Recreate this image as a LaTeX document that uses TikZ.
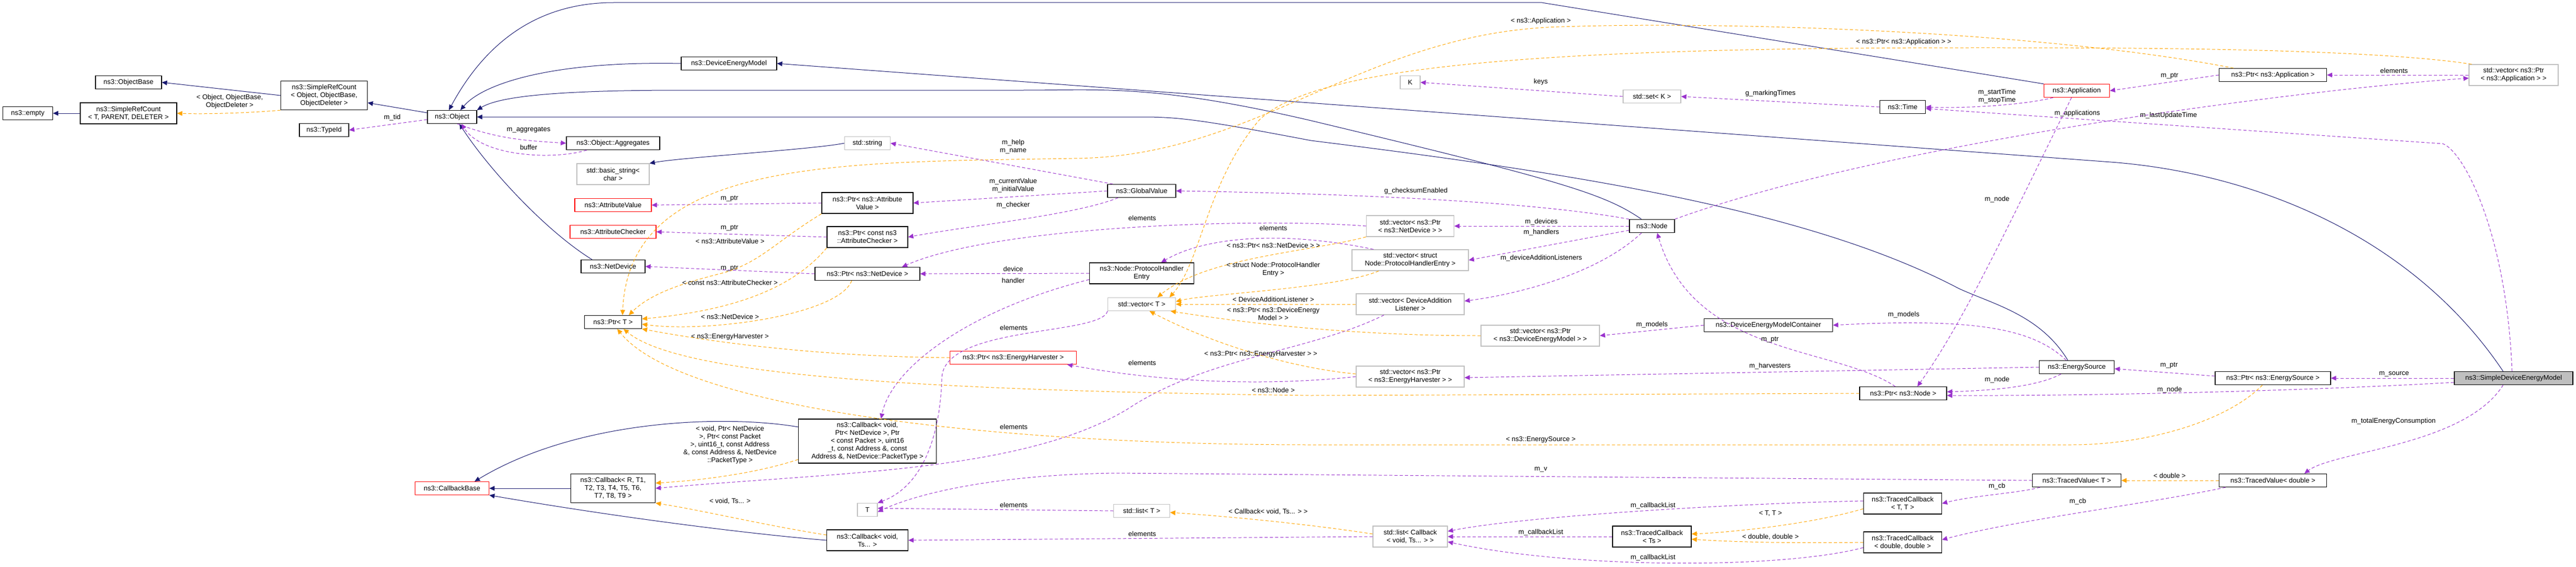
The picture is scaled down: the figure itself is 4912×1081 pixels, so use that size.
\documentclass[tikz,border=0pt]{standalone}
\usepackage{fontspec}
\setmainfont{Liberation Sans}
\usetikzlibrary{arrows.meta}
\definecolor{inhc}{RGB}{25,25,112}
\definecolor{usec}{RGB}{154,50,205}
\definecolor{tmpc}{RGB}{255,165,0}
\definecolor{grayb}{RGB}{191,191,191}
\begin{document}
\begin{tikzpicture}[x=1pt,y=-1pt,
  every node/.style={font=\fontsize{13}{15}\selectfont, align=center, inner sep=1pt},
  box/.style={draw=black, line width=1.2pt, fill=white, minimum height=25},
  gbox/.style={draw=grayb, line width=1.2pt, fill=white, minimum height=25},
  rbox/.style={draw=red, line width=1.2pt, fill=white, minimum height=25},
  lbl/.style={inner sep=0pt},
  inh/.style={draw=inhc, line width=1pt, -{Triangle[length=10pt,width=9pt]}},
  use/.style={draw=usec, line width=1pt, dash pattern=on 6pt off 4pt, -{Triangle[length=10pt,width=9pt]}},
  tmpl/.style={draw=tmpc, line width=1pt, dash pattern=on 6pt off 4pt, -{Triangle[length=10pt,width=9pt]}}]
\useasboundingbox (0,0) rectangle (4912,1081);
% nodes
\node[box,minimum width=95] (empty) at (53,216) {ns3::empty};
\node[box,minimum width=184,minimum height=40] (srcT) at (245,216) {ns3::SimpleRefCount\\< T, PARENT, DELETER >};
\node[box,minimum width=126] (objbase) at (245,157) {ns3::ObjectBase};
\node[box,minimum width=165,minimum height=55] (srcO) at (618,182) {ns3::SimpleRefCount\\< Object, ObjectBase,\\ObjectDeleter >};
\node[box,minimum width=94] (typeid) at (618,248) {ns3::TypeId};
\node[box,minimum width=94] (obj) at (862,223) {ns3::Object};
\node[box,minimum width=178] (aggr) at (1169,273) {ns3::Object::Aggregates};
\node[gbox,minimum width=138,minimum height=40] (bstr) at (1169,332) {std::basic\_string<\\char >};
\node[rbox,minimum width=146] (attv) at (1169,391) {ns3::AttributeValue};
\node[rbox,minimum width=164] (attc) at (1169,442) {ns3::AttributeChecker};
\node[box,minimum width=122] (netdev) at (1169,508) {ns3::NetDevice};
\node[box,minimum width=109] (ptrT) at (1169,614) {ns3::Ptr< T >};
\node[rbox,minimum width=141] (cbbase) at (862,931) {ns3::CallbackBase};
\node[box,minimum width=161,minimum height=55] (cbR) at (1169,931) {ns3::Callback< R, T1,\\T2, T3, T4, T5, T6,\\T7, T8, T9 >};
\node[box,minimum width=182] (dem) at (1390,121) {ns3::DeviceEnergyModel};
\node[gbox,minimum width=87] (str) at (1654,273) {std::string};
\node[box,minimum width=174,minimum height=40] (pAV) at (1654,387) {ns3::Ptr< ns3::Attribute\\Value >};
\node[box,minimum width=154,minimum height=40] (pAC) at (1654,452) {ns3::Ptr< const ns3\\::AttributeChecker >};
\node[box,minimum width=200] (pND) at (1654,522) {ns3::Ptr< ns3::NetDevice >};
\node[box,minimum width=130] (gv) at (2177,364) {ns3::GlobalValue};
\node[box,minimum width=199,minimum height=40] (phe) at (2177,521) {ns3::Node::ProtocolHandler\\Entry};
\node[gbox,minimum width=129] (vecT) at (2177,580) {std::vector< T >};
\node[rbox,minimum width=241] (pEH) at (1932,682) {ns3::Ptr< ns3::EnergyHarvester >};
\node[box,minimum width=263,minimum height=84] (cbND) at (1654,841) {ns3::Callback< void,\\Ptr< NetDevice >, Ptr\\< const Packet >, uint16\\\_t, const Address \&, const\\Address \&, NetDevice::PacketType >};
\node[gbox,minimum width=38] (Tn) at (1654,972) {T};
\node[gbox,minimum width=107] (listT) at (2177,974) {std::list< T >};
\node[box,minimum width=155,minimum height=40] (cbV) at (1654,1030) {ns3::Callback< void,\\Ts... >};
\node[gbox,minimum width=38] (K) at (2689,157) {K};
\node[gbox,minimum width=110] (setK) at (3150,184) {std::set< K >};
\node[box,minimum width=87] (time) at (3628,204) {ns3::Time};
\node[gbox,minimum width=167,minimum height=40] (vND) at (2689,431) {std::vector< ns3::Ptr\\< ns3::NetDevice > >};
\node[gbox,minimum width=222,minimum height=40] (vPHE) at (2689,496) {std::vector< struct\\Node::ProtocolHandlerEntry >};
\node[box,minimum width=86] (node) at (3150,431) {ns3::Node};
\node[gbox,minimum width=206,minimum height=40] (vDAL) at (2689,580) {std::vector< DeviceAddition\\Listener >};
\node[gbox,minimum width=226,minimum height=40] (vDEM) at (2937,640) {std::vector< ns3::Ptr\\< ns3::DeviceEnergyModel > >};
\node[box,minimum width=245] (demc) at (3372,620) {ns3::DeviceEnergyModelContainer};
\node[gbox,minimum width=206,minimum height=40] (vEH) at (2689,718) {std::vector< ns3::Ptr\\< ns3::EnergyHarvester > >};
\node[box,minimum width=166] (pNode) at (3629,750) {ns3::Ptr< ns3::Node >};
\node[gbox,minimum width=142,minimum height=40] (listCB) at (2689,1023) {std::list< Callback\\< void, Ts... > >};
\node[box,minimum width=150,minimum height=40] (tcTs) at (3150,1023) {ns3::TracedCallback\\< Ts >};
\node[box,minimum width=149,minimum height=40] (tcTT) at (3628,960) {ns3::TracedCallback\\< T, T >};
\node[box,minimum width=149,minimum height=40] (tcDD) at (3628,1034) {ns3::TracedCallback\\< double, double >};
\node[rbox,minimum width=125] (app) at (3960,173) {ns3::Application};
\node[box,minimum width=205] (pApp) at (4334,143) {ns3::Ptr< ns3::Application >};
\node[gbox,minimum width=170,minimum height=40] (vApp) at (4793,143) {std::vector< ns3::Ptr\\< ns3::Application > >};
\node[box,minimum width=143] (es) at (3960,700) {ns3::EnergySource};
\node[box,minimum width=220] (pES) at (4334,721) {ns3::Ptr< ns3::EnergySource >};
\node[box,minimum width=226,fill=grayb] (sdem) at (4793,721) {ns3::SimpleDeviceEnergyModel};
\node[box,minimum width=169] (tvT) at (3960,916) {ns3::TracedValue< T >};
\node[box,minimum width=205] (tvD) at (4334,916) {ns3::TracedValue< double >};
% inheritance
\draw[inh] (srcT) -- (empty);
\draw[inh] (srcO.west) -- (objbase.east);
\draw[inh] (obj) -- (srcO);
\draw[inh] (dem.west) .. controls (1050,116) and (920,160) .. ([xshift=16]obj.north);
\draw[inh] (app.north west) -- (2940,5) -- (1170,5) .. controls (1000,5) and (910,110) .. ([xshift=-6]obj.north);
\draw[inh] ([xshift=-20]node.north) .. controls (3060,370) and (2980,345) .. (2500,230) .. controls (2200,160) and (2100,172) .. (1950,172) -- (1300,172) .. controls (1050,172) and (950,185) .. (obj.north east);
\draw[inh] ([xshift=-17]es.north) .. controls (3890,600) and (3800,580) .. (3735,550) .. controls (3450,400) and (3000,330) .. (2500,268) .. controls (2300,230) and (2250,223) .. (2180,223) -- (obj.east);
\draw[inh] ([xshift=-40]netdev.north) .. controls (1040,440) and (930,320) .. ([xshift=14]obj.south);
\draw[inh] ([xshift=-20]sdem.north) .. controls (4600,450) and (4300,330) .. (4025,309) -- (dem.east);
\draw[inh] (str.west) .. controls (1550,285) and (1300,300) .. (bstr.north east);
\draw[inh] (cbR) -- (cbbase);
\draw[inh] ([yshift=27]cbND.west) .. controls (1380,790) and (1100,800) .. ([xshift=43]cbbase.north);
\draw[inh] (cbV.west) .. controls (1450,1020) and (1200,990) .. (cbbase.south east);
% usage
\draw[use] ([yshift=-5]obj.west) -- (typeid.east);
\node[lbl] (l1) at (748,224) {m\_tid};
\draw[use] ([xshift=10]obj.south) .. controls (950,265) and (1000,268) .. (aggr.west);
\node[lbl] (l2) at (1008,248) {m\_aggregates};
\draw[use] ([xshift=-50]aggr.south) .. controls (1060,305) and (920,300) .. ([xshift=18]obj.south);
\node[lbl] (l3) at (1008,281) {buffer};
\draw[use] (pAV.west) -- (attv.east);
\node[lbl] (l4) at (1391,379) {m\_ptr};
\draw[use] (pAC.west) -- (attc.east);
\node[lbl] (l5) at (1391,435) {m\_ptr};
\draw[use] (pND.west) -- (netdev.east);
\node[lbl] (l6) at (1391,512) {m\_ptr};
\draw[use] ([xshift=-55]gv.north) -- (str.east);
\node[lbl] (l7) at (1932,280) {m\_help\\m\_name};
\draw[use] (gv.west) -- (pAV.east);
\node[lbl] (l8) at (1932,354) {m\_currentValue\\m\_initialValue};
\draw[use] ([xshift=-45]gv.south) .. controls (2050,410) and (1850,430) .. (pAC.east);
\node[lbl] (l9) at (1932,391) {m\_checker};
\draw[use] (node.north west) .. controls (2900,380) and (2500,368) .. (gv.east);
\node[lbl] (l10) at (2700,364) {g\_checksumEnabled};
\draw[use] (node.west) -- (vND.east);
\node[lbl] (l11) at (2939,423) {m\_devices};
\draw[use] ([yshift=-8]node.west) -- (vPHE.east);
\node[lbl] (l12) at (2939,443) {m\_handlers};
\draw[use] ([xshift=-20]node.south) .. controls (3050,520) and (2900,560) .. ([yshift=6]vDAL.east);
\node[lbl] (l13) at (2939,492) {m\_deviceAdditionListeners};
\draw[use] (node.north east) .. controls (3600,270) and (4400,170) .. ([yshift=-6]vApp.west);
\node[lbl] (l14) at (3961,216) {m\_applications};
\draw[use] (time.west) -- (setK.east);
\node[lbl] (l15) at (3376,178) {g\_markingTimes};
\draw[use] (setK.west) -- (K.east);
\node[lbl] (l16) at (2938,156) {keys};
\draw[use] ([xshift=-45]app.south) .. controls (3860,200) and (3750,207) .. (time.east);
\node[lbl] (l17) at (3808,184) {m\_startTime\\m\_stopTime};
\draw[use] ([xshift=-10]app.south) .. controls (3820,450) and (3740,620) .. ([xshift=27]pNode.north);
\node[lbl] (l18) at (3808,380) {m\_node};
\draw[use] ([xshift=-30]es.south) .. controls (3880,740) and (3780,745) .. ([yshift=3]pNode.east);
\node[lbl] (l19) at (3808,724) {m\_node};
\draw[use] ([yshift=-8]sdem.west) .. controls (4400,745) and (4000,755) .. ([yshift=-4]pNode.east);
\node[lbl] (l20) at (4137,743) {m\_node};
\draw[use] (sdem.west) -- (pES.east);
\node[lbl] (l21) at (4565,713) {m\_source};
\draw[use] ([yshift=4]pES.west) -- ([yshift=-3]es.east);
\node[lbl] (l22) at (4136,697) {m\_ptr};
\draw[use] ([xshift=-20]sdem.south) .. controls (4700,850) and (4450,860) .. ([xshift=60]tvD.north);
\node[lbl] (l23) at (4564,803) {m\_totalEnergyConsumption};
\draw[use] ([xshift=-3]sdem.north) .. controls (4780,450) and (4700,290) .. (4658,274) -- ([yshift=-3]time.east);
\node[lbl] (l24) at (4135,220) {m\_lastUpdateTime};
\draw[use] ([xshift=-15]pNode.north) .. controls (3500,660) and (3230,680) .. ([xshift=10]node.south);
\node[lbl] (l25) at (3375,648) {m\_ptr};
\draw[use] ([xshift=-20]es.north) .. controls (3880,630) and (3780,605) .. (demc.east);
\node[lbl] (l26) at (3630,600) {m\_models};
\draw[use] (demc.west) -- (vDEM.east);
\node[lbl] (l27) at (3150,619) {m\_models};
\draw[use] (es.west) -- ([yshift=-2]vEH.east);
\node[lbl] (l28) at (3375,698) {m\_harvesters};
\draw[use] (pApp.west) -- (app.east);
\node[lbl] (l29) at (4137,145) {m\_ptr};
\draw[use] (vApp.west) -- (pApp.east);
\node[lbl] (l30) at (4565,135) {elements};
\draw[use] (vND.west) .. controls (2400,415) and (1900,430) .. ([xshift=66]pND.north);
\node[lbl] (l31) at (2178,416) {elements};
\draw[use] ([xshift=-70]vPHE.north) .. controls (2450,440) and (2300,450) .. ([xshift=37]phe.north);
\node[lbl] (l32) at (2428,435) {elements};
\draw[use] (phe.west) -- (pND.east);
\node[lbl] (l33) at (1932,513) {device};
\draw[use] ([yshift=-12]phe.west) .. controls (1850,590) and (1700,700) .. ([xshift=26]cbND.north);
\node[lbl] (l34) at (1932,535) {handler};
\draw[use] (vecT.south west) .. controls (2100,640) and (1800,620) .. (1796,720) .. controls (1792,850) and (1750,930) .. (Tn.north east);
\node[lbl] (l35) at (1933,625) {elements};
\draw[use] ([xshift=-50]vDAL.south) .. controls (2500,670) and (2300,680) .. (2150,780) .. controls (1950,900) and (1600,900) .. (cbR.east);
\node[lbl] (l36) at (1933,814) {elements};
\draw[use] (tvT.west) -- (2127,902) .. controls (1900,905) and (1750,940) .. ([yshift=-4]Tn.east);
\node[lbl] (l37) at (2938,895) {m\_v};
\draw[use] (vEH.west) .. controls (2450,733) and (2250,735) .. ([xshift=103]pEH.south);
\node[lbl] (l38) at (2178,692) {elements};
\draw[use] (listT.west) -- ([yshift=3]Tn.east);
\node[lbl] (l39) at (1933,963) {elements};
\draw[use] (listCB.west) -- (cbV.east);
\node[lbl] (l40) at (2178,1018) {elements};
\draw[use] (tcTs.west) -- (listCB.east);
\node[lbl] (l41) at (2938,1015) {m\_callbackList};
\draw[use] ([yshift=5]tcTT.west) .. controls (3300,960) and (2900,985) .. ([yshift=10]listCB.east);
\node[lbl] (l42) at (3152,964) {m\_callbackList};
\draw[use] ([yshift=-10]tcDD.west) .. controls (3400,1085) and (3000,1085) .. ([yshift=-10]listCB.east);
\node[lbl] (l43) at (3152,1063) {m\_callbackList};
\draw[use] ([xshift=-70]tvT.south) .. controls (3850,940) and (3760,945) .. (tcTT.east);
\node[lbl] (l44) at (3808,927) {m\_cb};
\draw[use] ([xshift=-90]tvD.south) .. controls (4100,960) and (3850,990) .. ([yshift=5]tcDD.east);
\node[lbl] (l45) at (3962,956) {m\_cb};
% template
\draw[tmpl] (srcO.south west) .. controls (480,215) and (400,218) .. (srcT.east);
\node[lbl] (t1) at (438,194) {< Object, ObjectBase,\\ObjectDeleter >};
\draw[tmpl] (tvD.west) -- (tvT.east);
\node[lbl] (t2) at (4137,907) {< double >};
\draw[tmpl] ([yshift=-10]tcTT.west) .. controls (3450,1000) and (3300,1015) .. ([yshift=5]tcTs.east);
\node[lbl] (t3) at (3376,979) {< T, T >};
\draw[tmpl] (tcDD.west) .. controls (3400,1036) and (3300,1033) .. ([yshift=-5]tcTs.east);
\node[lbl] (t4) at (3376,1024) {< double, double >};
\draw[tmpl] ([yshift=5]listCB.west) .. controls (2500,1000) and (2350,985) .. ([yshift=-3]listT.east);
\node[lbl] (t5) at (2418,976) {< Callback< void, Ts... > >};
\draw[tmpl] ([yshift=10]cbV.west) .. controls (1450,1000) and (1350,975) .. (cbR.south east);
\node[lbl] (t6) at (1392,956) {< void, Ts... >};
\draw[tmpl] ([yshift=-35]cbND.west) .. controls (1450,900) and (1350,915) .. ([yshift=10]cbR.east);
\node[lbl] (t7) at (1392,848) {< void, Ptr< NetDevice\\>, Ptr< const Packet\\>, uint16\_t, const Address\\\&, const Address \&, NetDevice\\::PacketType >};
\draw[tmpl] (pAV.south west) .. controls (1480,460) and (1450,500) .. (1380,520) .. controls (1300,540) and (1240,560) .. ([xshift=30]ptrT.north);
\node[lbl] (t8) at (1392,460) {< ns3::AttributeValue >};
\draw[tmpl] (pAC.south west) .. controls (1520,540) and (1420,590) .. ([yshift=6]ptrT.east);
\node[lbl] (t9) at (1392,539) {< const ns3::AttributeChecker >};
\draw[tmpl] ([xshift=-30]pND.south) .. controls (1600,600) and (1350,635) .. ([yshift=-4]ptrT.east);
\node[lbl] (t10) at (1392,604) {< ns3::NetDevice >};
\draw[tmpl] (pEH.west) .. controls (1600,680) and (1400,660) .. (ptrT.south east);
\node[lbl] (t11) at (1392,642) {< ns3::EnergyHarvester >};
\draw[tmpl] (pNode.west) -- (2500,754) .. controls (1800,745) and (1300,720) .. ([xshift=20]ptrT.south);
\node[lbl] (t12) at (2428,744) {< ns3::Node >};
\draw[tmpl] ([xshift=-20]pES.south) .. controls (4250,800) and (4100,848) .. (3950,848) -- (2500,848) .. controls (1900,848) and (1300,780) .. ([xshift=8]ptrT.south);
\node[lbl] (t13) at (2938,838) {< ns3::EnergySource >};
\draw[tmpl] ([xshift=-75]pApp.north) .. controls (3900,60) and (3300,40) .. (2978,51) .. controls (2600,60) and (2400,300) .. (2047,302) .. controls (1600,310) and (1200,300) .. ([xshift=18]ptrT.north);
\node[lbl] (t14) at (2938,40) {< ns3::Application >};
\draw[tmpl] ([xshift=-80]vApp.north) .. controls (4500,90) and (4000,91) .. (3750,91) .. controls (2900,91) and (2500,130) .. (2400,230) .. controls (2300,350) and (2290,500) .. ([xshift=-12]vecT.north east);
\node[lbl] (t15) at (3630,80) {< ns3::Ptr< ns3::Application > >};
\draw[tmpl] (vND.south west) .. controls (2500,480) and (2300,490) .. ([xshift=30]vecT.north);
\node[lbl] (t16) at (2428,468) {< ns3::Ptr< ns3::NetDevice > >};
\draw[tmpl] ([xshift=-60]vPHE.south) .. controls (2550,550) and (2300,560) .. ([yshift=5]vecT.east);
\node[lbl] (t17) at (2428,514) {< struct Node::ProtocolHandler\\Entry >};
\draw[tmpl] (vDAL.west) -- (vecT.east);
\node[lbl] (t18) at (2428,571) {< DeviceAdditionListener >};
\draw[tmpl] (vDEM.west) .. controls (2600,640) and (2400,620) .. ([xshift=-10]vecT.south east);
\node[lbl] (t19) at (2428,598) {< ns3::Ptr< ns3::DeviceEnergy\\Model > >};
\draw[tmpl] ([yshift=5]vEH.west) .. controls (2450,700) and (2300,650) .. ([xshift=15]vecT.south);
\node[lbl] (t20) at (2404,675) {< ns3::Ptr< ns3::EnergyHarvester > >};
\end{tikzpicture}
\end{document}
